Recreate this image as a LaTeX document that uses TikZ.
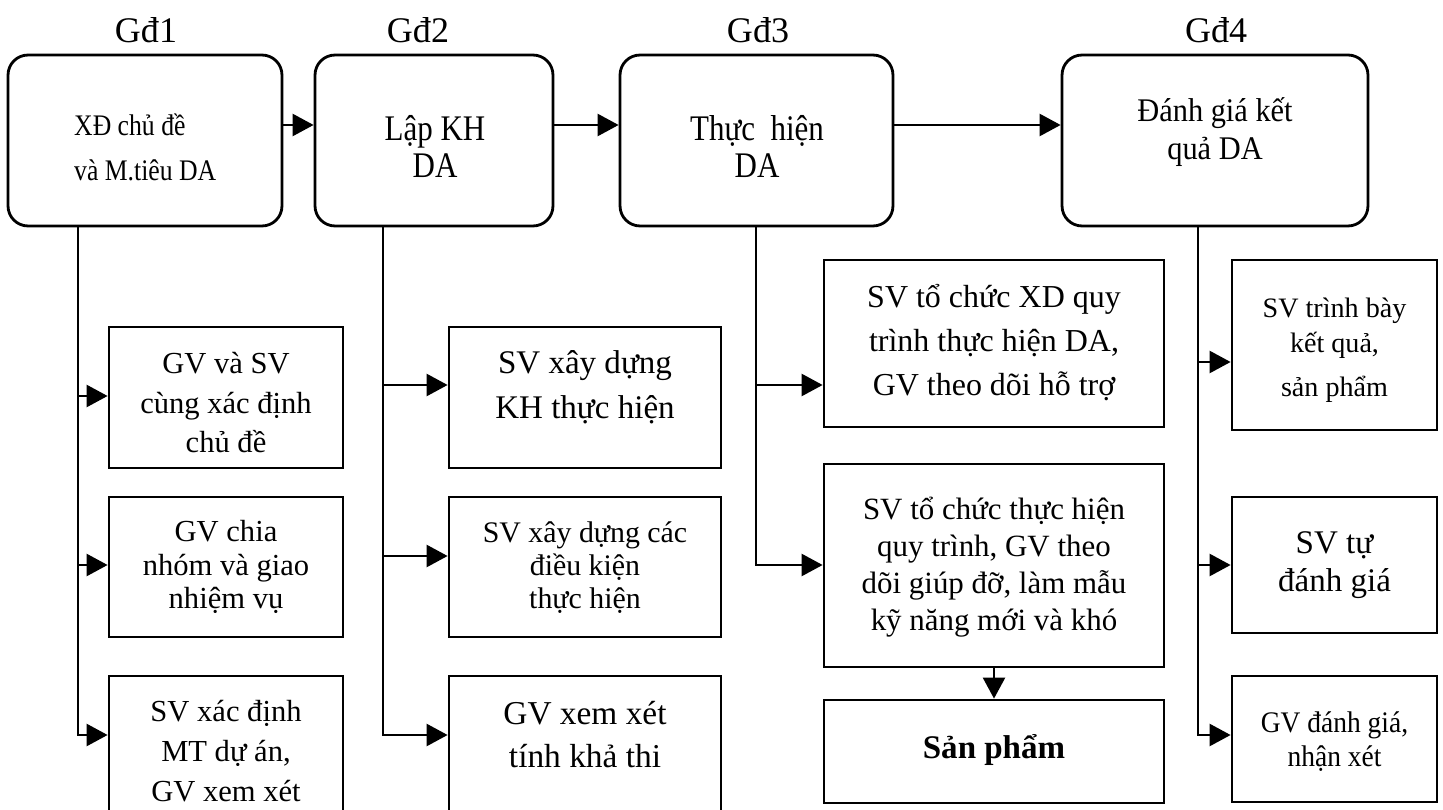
\documentclass[tikz,border=0pt]{standalone}
\usepackage{fontspec}
\setmainfont{Liberation Serif}
\newfontfamily\narrowtnr[FakeStretch=0.86]{Liberation Serif}
\newfontfamily\semitnr[FakeStretch=0.92]{Liberation Serif}
\usetikzlibrary{arrows.meta}
\newcommand{\fsz}[2]{\fontsize{#1}{#2}\selectfont}
\tikzset{
	stage/.style={draw, line width=1.6pt, rounded corners=0.4cm, inner sep=0pt, minimum height=3.42cm},
	task/.style={draw, line width=1.6pt, inner sep=0pt},
	lbl/.style={align=center, inner sep=0pt},
}

\begin{document}
\begin{tikzpicture}[x=0.02cm, y=-0.02cm, line width=1.4pt, >={Triangle[length=0.42cm,width=0.44cm]}]
	\clip (0,0) rectangle (1443,810);
	% headings
	\node[lbl, anchor=base, font=\fsz{20.5pt}{24pt}] (h1) at (146,43) {Gđ1};
	\node[lbl, anchor=base, font=\fsz{20.5pt}{24pt}] (h2) at (418,43) {Gđ2};
	\node[lbl, anchor=base, font=\fsz{20.5pt}{24pt}] (h3) at (758,43) {Gđ3};
	\node[lbl, anchor=base, font=\fsz{20.5pt}{24pt}] (h4) at (1216,43) {Gđ4};
	% stages
	\node[stage, minimum width=5.48cm] (g1) at (145,140.5) {};
	\node[stage, minimum width=4.76cm] (g2) at (434,140.5) {};
	\node[stage, minimum width=5.46cm] (g3) at (756.5,140.5) {};
	\node[stage, minimum width=6.12cm] (g4) at (1215,140.5) {};
	\node[lbl, align=left, anchor=west, font={\narrowtnr\fsz{17pt}{25.6pt}}] (g1t) at (73,147.5) {XĐ chủ đề\\và M.tiêu DA};
	\node[lbl, font={\narrowtnr\fsz{20.5pt}{21.6pt}}] (g2t) at (435,146.5) {Lập KH\\DA};
	\node[lbl, font={\narrowtnr\fsz{20.5pt}{21.6pt}}] (g3t) at (757,146.5) {Thực\ \ hiện\\DA};
	\node[lbl, font={\semitnr\fsz{18.8pt}{21.6pt}}] (g4t) at (1215,132) {Đánh giá kết\\quả DA};
	\coordinate (row) at (0,125);
	\draw[->] (g1.east |- row) -- (g2.west |- row);
	\draw[->] (g2.east |- row) -- (g3.west |- row);
	\draw[->] (g3.east |- row) -- (g4.west |- row);

	% Gd1 tasks
	\node[task, minimum width=4.68cm, minimum height=2.82cm] (a1) at (226,397.5) {};
	\node[task, minimum width=4.68cm, minimum height=2.80cm] (a2) at (226,567) {};
	\node[task, minimum width=4.68cm, minimum height=3.08cm] (a3) at (226,753) {};
	\node[lbl, font=\fsz{17.4pt}{22.5pt}] (a1t) at (226,402.8) {GV và SV\\cùng xác định\\chủ đề};
	\node[lbl, font=\fsz{17.4pt}{19.3pt}] (a2t) at (226,567) {GV chia\\nhóm và giao\\nhiệm vụ};
	\node[lbl, font=\fsz{17.4pt}{22.8pt}] (a3t) at (226,750.8) {SV xác định\\MT dự án,\\GV xem xét};
	\coordinate (k1) at (78,735);
	\coordinate (j11) at (78,396);
	\coordinate (j12) at (78,565);
	\draw[->] (g1.south -| k1) -- (k1) -- (a3.west |- k1);
	\draw[->] (j11) -- (a1.west |- j11);
	\draw[->] (j12) -- (a2.west |- j12);

	% Gd2 tasks
	\node[task, minimum width=5.44cm, minimum height=2.82cm] (b1) at (585,397.5) {};
	\node[task, minimum width=5.44cm, minimum height=2.80cm] (b2) at (585,567) {};
	\node[task, minimum width=5.44cm, minimum height=3.08cm] (b3) at (585,753) {};
	\node[lbl, font=\fsz{18.8pt}{25.6pt}] (b1t) at (585,386.8) {SV xây dựng\\KH thực hiện};
	\node[lbl, font=\fsz{17pt}{18.8pt}] (b2t) at (585,567.5) {SV xây dựng các\\điều kiện\\thực hiện};
	\node[lbl, font=\fsz{19pt}{24.5pt}] (b3t) at (585,734.7) {GV xem xét\\tính khả thi};
	\coordinate (k2) at (383,735);
	\coordinate (j21) at (383,385);
	\coordinate (j22) at (383,556);
	\draw[->] (g2.south -| k2) -- (k2) -- (b3.west |- k2);
	\draw[->] (j21) -- (b1.west |- j21);
	\draw[->] (j22) -- (b2.west |- j22);

	% Gd3 tasks
	\node[task, minimum width=6.8cm, minimum height=3.34cm] (c1) at (994,343.5) {};
	\node[task, minimum width=6.8cm, minimum height=4.06cm] (c2) at (994,565.5) {};
	\node[task, minimum width=6.8cm, minimum height=2.06cm] (c3) at (994,751.5) {};
	\node[lbl, font=\fsz{18.2pt}{25pt}] (c1t) at (994,342.5) {SV tổ chức XD quy\\trình thực hiện DA,\\GV theo dõi hỗ trợ};
	\node[lbl, font=\fsz{17.6pt}{21pt}] (c2t) at (994,567.4) {SV tổ chức thực hiện\\quy trình, GV theo\\dõi giúp đỡ, làm mẫu\\kỹ năng mới và khó};
	\node[lbl, anchor=base, font={\fsz{18.8pt}{22pt}\bfseries}] (c3t) at (994,758) {Sản phẩm};
	\coordinate (k3) at (756,565);
	\coordinate (j31) at (756,385);
	\draw[->] (g3.south -| k3) -- (k3) -- (c2.west |- k3);
	\draw[->] (j31) -- (c1.west |- j31);
	\draw[->] (c2.south) -- (c3.north);

	% Gd4 tasks
	\node[task, minimum width=4.1cm, minimum height=3.4cm] (d1) at (1334.5,345) {};
	\node[task, minimum width=4.1cm, minimum height=2.72cm] (d2) at (1334.5,565) {};
	\node[task, minimum width=4.1cm, minimum height=2.52cm] (d3) at (1334.5,739) {};
	\node[lbl, font=\fsz{16pt}{19.9pt}] (d1t) at (1334.5,350) {SV trình bày\\kết quả,\\[5.1pt]sản phẩm};
	\node[lbl, font=\fsz{18.8pt}{21.6pt}] (d2t) at (1334.5,565) {SV tự\\đánh giá};
	\node[lbl, font={\semitnr\fsz{17pt}{19.3pt}}] (d3t) at (1334.5,742) {GV đánh giá,\\nhận xét};
	\coordinate (k4) at (1198,735);
	\coordinate (j41) at (1198,362);
	\coordinate (j42) at (1198,565);
	\draw[->] (g4.south -| k4) -- (k4) -- (d3.west |- k4);
	\draw[->] (j41) -- (d1.west |- j41);
	\draw[->] (j42) -- (d2.west |- j42);
\end{tikzpicture}
\end{document}
